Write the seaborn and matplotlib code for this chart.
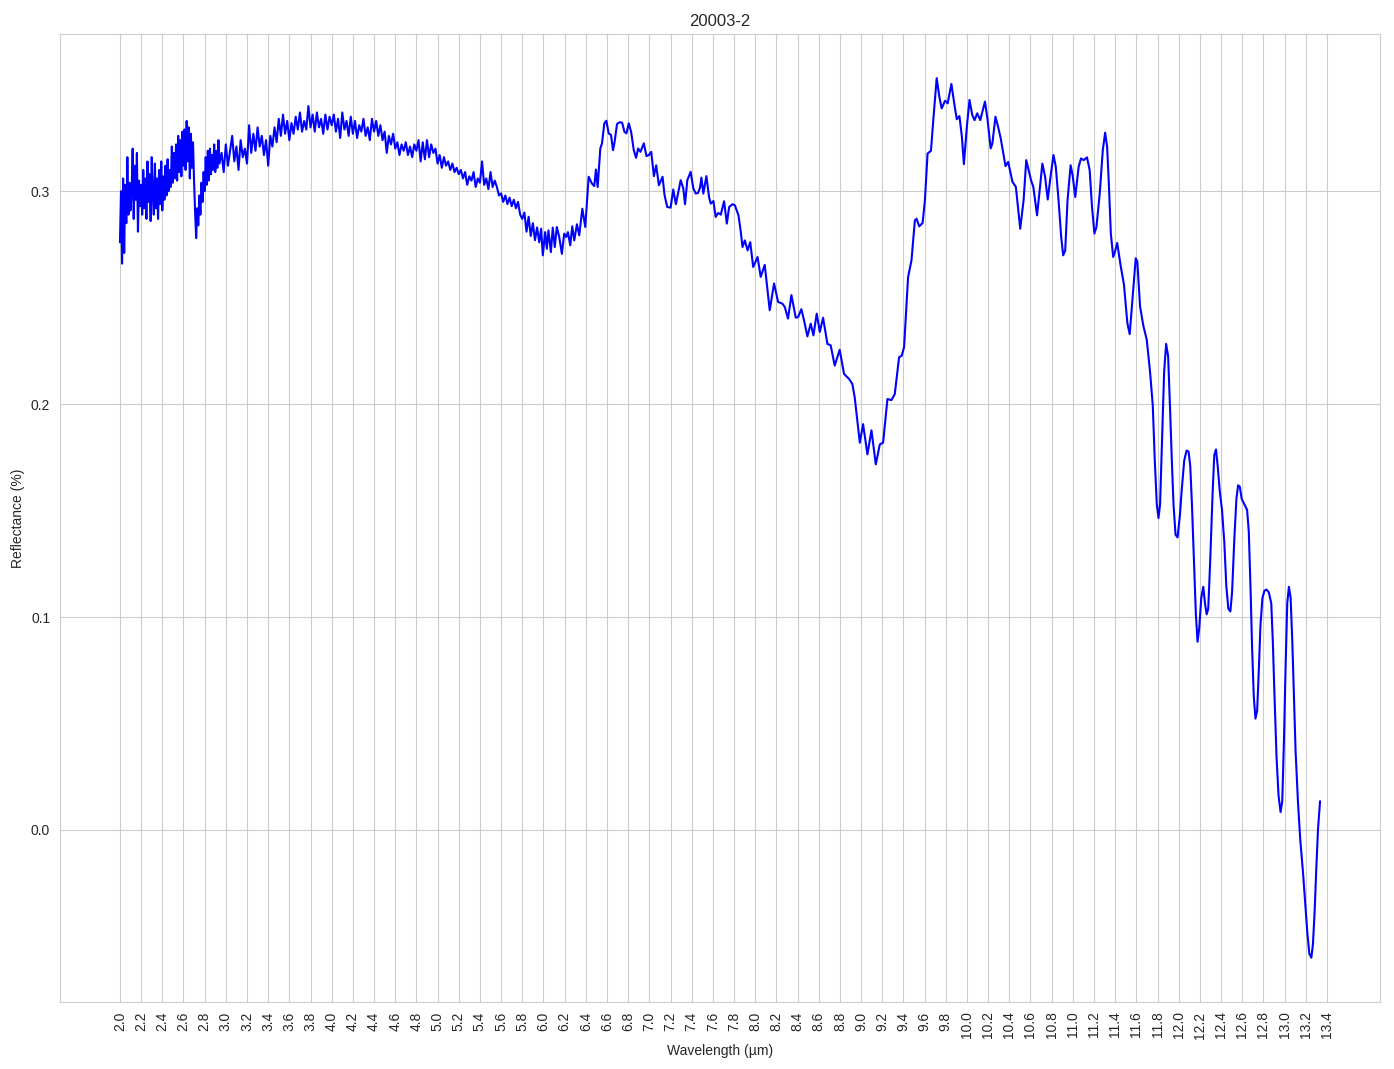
import numpy as np
import pandas as pd
import matplotlib
matplotlib.use("Agg")
import matplotlib.pyplot as plt
import seaborn as sns

# values, in pieces
wl_a = [2.00, 2.01, 2.02, 2.03, 2.04, 2.05, 2.06, 2.07, 2.08, 2.09,
        2.10, 2.11, 2.12, 2.13, 2.14, 2.15, 2.16, 2.17, 2.18, 2.19,
        2.20, 2.21, 2.22, 2.23, 2.24, 2.25, 2.26, 2.27, 2.28, 2.29,
        2.30, 2.31, 2.32, 2.33, 2.34, 2.35, 2.36, 2.37, 2.38, 2.39,
        2.40, 2.41, 2.42, 2.43, 2.44, 2.45, 2.46, 2.47, 2.48, 2.49,
        2.50, 2.51, 2.52, 2.53, 2.54, 2.55, 2.56, 2.57, 2.58, 2.59,
        2.60, 2.61, 2.62, 2.63, 2.64, 2.65, 2.66, 2.67, 2.68, 2.69,
        2.70, 2.71, 2.72, 2.73, 2.74, 2.75, 2.76, 2.77, 2.78, 2.79,
        2.80, 2.81, 2.82, 2.83, 2.84, 2.85, 2.86, 2.87, 2.88, 2.89,
        2.90, 2.91, 2.92, 2.93, 2.94]
refl_a = [0.276, 0.300, 0.266, 0.306, 0.271, 0.303, 0.285, 0.316, 0.289, 0.304,
          0.291, 0.299, 0.320, 0.287, 0.312, 0.296, 0.318, 0.281, 0.305, 0.293,
          0.303, 0.289, 0.310, 0.292, 0.306, 0.287, 0.314, 0.295, 0.308, 0.286,
          0.316, 0.298, 0.289, 0.313, 0.292, 0.306, 0.287, 0.310, 0.294, 0.314,
          0.291, 0.307, 0.296, 0.312, 0.298, 0.315, 0.300, 0.310, 0.302, 0.321,
          0.304, 0.318, 0.306, 0.322, 0.305, 0.326, 0.309, 0.324, 0.307, 0.328,
          0.312, 0.329, 0.310, 0.333, 0.314, 0.330, 0.306, 0.327, 0.311, 0.323,
          0.305, 0.290, 0.278, 0.292, 0.284, 0.298, 0.289, 0.304, 0.295, 0.309,
          0.300, 0.316, 0.303, 0.319, 0.305, 0.320, 0.308, 0.317, 0.310, 0.322,
          0.309, 0.319, 0.311, 0.324, 0.313]

wl_b = [2.96, 2.98, 3.00, 3.02, 3.04, 3.06, 3.08, 3.10, 3.12, 3.14,
        3.16, 3.18, 3.20, 3.22, 3.24, 3.26, 3.28, 3.30, 3.32, 3.34,
        3.36, 3.38, 3.40, 3.42, 3.44, 3.46, 3.48, 3.50, 3.52, 3.54,
        3.56, 3.58, 3.60, 3.62, 3.64, 3.66, 3.68, 3.70, 3.72, 3.74,
        3.76, 3.78, 3.80, 3.82, 3.84, 3.86, 3.88, 3.90, 3.92, 3.94,
        3.96, 3.98]
refl_b = [0.318, 0.309, 0.322, 0.312, 0.319, 0.326, 0.314, 0.321, 0.310, 0.324,
          0.316, 0.320, 0.313, 0.331, 0.318, 0.327, 0.319, 0.330, 0.321, 0.326,
          0.317, 0.324, 0.312, 0.326, 0.321, 0.330, 0.323, 0.334, 0.326, 0.336,
          0.327, 0.333, 0.324, 0.332, 0.327, 0.335, 0.329, 0.337, 0.328, 0.333,
          0.329, 0.340, 0.330, 0.336, 0.328, 0.337, 0.330, 0.334, 0.327, 0.336,
          0.329, 0.335]

wl_c = [4.00, 4.02, 4.04, 4.06, 4.08, 4.10, 4.12, 4.14, 4.16, 4.18,
        4.20, 4.22, 4.24, 4.26, 4.28, 4.30, 4.32, 4.34, 4.36, 4.38,
        4.40, 4.42, 4.44, 4.46, 4.48, 4.50, 4.52, 4.54, 4.56, 4.58,
        4.60, 4.62, 4.64, 4.66, 4.68, 4.70, 4.72, 4.74, 4.76, 4.78,
        4.80, 4.82, 4.84, 4.86, 4.88, 4.90, 4.92, 4.94, 4.96, 4.98,
        5.00, 5.02, 5.04, 5.06, 5.08, 5.10, 5.12, 5.14, 5.16, 5.18,
        5.20, 5.22, 5.24, 5.26, 5.28, 5.30, 5.32, 5.34, 5.36, 5.38,
        5.40, 5.42, 5.44, 5.46, 5.48, 5.50, 5.52, 5.54, 5.56, 5.58,
        5.60, 5.62, 5.64, 5.66, 5.68, 5.70, 5.72, 5.74, 5.76, 5.78,
        5.80, 5.82, 5.84, 5.86, 5.88, 5.90, 5.92, 5.94, 5.96]
refl_c = [0.331, 0.336, 0.328, 0.334, 0.325, 0.337, 0.329, 0.333, 0.326, 0.335,
          0.327, 0.333, 0.325, 0.331, 0.328, 0.334, 0.326, 0.330, 0.324, 0.334,
          0.328, 0.333, 0.326, 0.331, 0.324, 0.328, 0.318, 0.326, 0.322, 0.327,
          0.320, 0.323, 0.317, 0.322, 0.319, 0.323, 0.317, 0.321, 0.316, 0.322,
          0.319, 0.324, 0.314, 0.323, 0.315, 0.324, 0.316, 0.322, 0.318, 0.320,
          0.313, 0.317, 0.311, 0.316, 0.312, 0.314, 0.310, 0.313, 0.309, 0.311,
          0.308, 0.310, 0.306, 0.309, 0.303, 0.307, 0.305, 0.309, 0.302, 0.306,
          0.304, 0.314, 0.303, 0.306, 0.301, 0.309, 0.302, 0.305, 0.302, 0.298,
          0.299, 0.295, 0.298, 0.294, 0.297, 0.293, 0.296, 0.292, 0.295, 0.289,
          0.287, 0.290, 0.281, 0.288, 0.279, 0.285, 0.277, 0.283, 0.276]

wl_d = [5.978, 5.994, 6.016, 6.032, 6.047, 6.070, 6.088, 6.107, 6.126, 6.149,
        6.174, 6.196, 6.215, 6.231, 6.253, 6.272, 6.291, 6.316, 6.338, 6.367,
        6.395, 6.427, 6.458, 6.480, 6.496, 6.512, 6.537, 6.553, 6.575, 6.594,
        6.616, 6.638, 6.657, 6.670, 6.695, 6.720, 6.743, 6.765, 6.784, 6.806,
        6.828, 6.853, 6.875, 6.894, 6.916, 6.948, 6.973, 6.995, 7.018, 7.043,
        7.065, 7.090, 7.125, 7.144, 7.169, 7.201, 7.226, 7.251, 7.296, 7.321,
        7.337, 7.359, 7.390, 7.416, 7.438, 7.460, 7.479, 7.492, 7.510, 7.539,
        7.564, 7.580, 7.605, 7.627, 7.650, 7.675, 7.706, 7.732, 7.754, 7.785,
        7.808, 7.842, 7.864, 7.880, 7.902, 7.928, 7.953, 7.981, 8.022]
refl_d = [0.2824, 0.2699, 0.2808, 0.2730, 0.2816, 0.2714, 0.2829, 0.2738, 0.2832, 0.2785,
          0.2706, 0.2801, 0.2785, 0.2808, 0.2746, 0.2835, 0.2769, 0.2845, 0.2793, 0.2918,
          0.2832, 0.3068, 0.3036, 0.3024, 0.3102, 0.3020, 0.3201, 0.3225, 0.3319, 0.3331,
          0.3272, 0.3264, 0.3193, 0.3225, 0.3316, 0.3324, 0.3322, 0.3279, 0.3272, 0.3319,
          0.3279, 0.3193, 0.3157, 0.3201, 0.3185, 0.3225, 0.3165, 0.3170, 0.3185, 0.3071,
          0.3122, 0.3028, 0.3068, 0.2981, 0.2926, 0.2923, 0.3008, 0.2939, 0.3052, 0.3013,
          0.2939, 0.3052, 0.3091, 0.3013, 0.2989, 0.2992, 0.3017, 0.3064, 0.2989, 0.3071,
          0.2973, 0.2942, 0.2954, 0.2879, 0.2898, 0.2890, 0.2953, 0.2848, 0.2926, 0.2939,
          0.2934, 0.2887, 0.2808, 0.2738, 0.2769, 0.2722, 0.2761, 0.2644, 0.2691]

wl_e = [8.052, 8.090, 8.137, 8.178, 8.216, 8.257, 8.279, 8.310, 8.342, 8.383,
        8.405, 8.436, 8.461, 8.493, 8.524, 8.550, 8.581, 8.610, 8.641, 8.682,
        8.713, 8.751, 8.798, 8.839, 8.887, 8.918, 8.940, 8.965, 8.988, 9.019,
        9.060, 9.098, 9.139, 9.177, 9.208, 9.249, 9.287, 9.318, 9.359]
refl_e = [0.2598, 0.2654, 0.2441, 0.2567, 0.2480, 0.2472, 0.2457, 0.2402, 0.2512, 0.2406,
          0.2409, 0.2446, 0.2394, 0.2318, 0.2378, 0.2323, 0.2425, 0.2339, 0.2406, 0.2283,
          0.2276, 0.2181, 0.2255, 0.2142, 0.2118, 0.2094, 0.2031, 0.1921, 0.1819, 0.1906,
          0.1764, 0.1877, 0.1717, 0.1811, 0.1819, 0.2024, 0.2019, 0.2047, 0.2220]

wl_f = [9.384, 9.406, 9.444, 9.476, 9.508, 9.524, 9.549, 9.581, 9.603, 9.628,
        9.660, 9.682, 9.714, 9.739, 9.761, 9.793, 9.818, 9.853, 9.882, 9.904,
        9.929, 9.952, 9.971, 9.999, 10.024, 10.050, 10.072, 10.097, 10.126, 10.170,
        10.193, 10.224, 10.240, 10.269, 10.294, 10.319, 10.335, 10.364, 10.389, 10.430,
        10.462, 10.503, 10.535, 10.560, 10.579, 10.605, 10.627, 10.662, 10.690, 10.712,
        10.738, 10.763, 10.791, 10.817, 10.839, 10.865, 10.890, 10.909, 10.928, 10.950,
        10.979, 10.998, 11.023, 11.055, 11.077, 11.102, 11.134, 11.159, 11.181, 11.204,
        11.223, 11.254, 11.283, 11.305, 11.324, 11.340, 11.359, 11.381, 11.397, 11.419]
refl_f = [0.2228, 0.2267, 0.2597, 0.2675, 0.2863, 0.2871, 0.2835, 0.2851, 0.2958, 0.3177,
          0.3190, 0.3334, 0.3531, 0.3444, 0.3389, 0.3425, 0.3413, 0.3504, 0.3405, 0.3338,
          0.3353, 0.3256, 0.3127, 0.3303, 0.3429, 0.3358, 0.3334, 0.3366, 0.3334, 0.3421,
          0.3342, 0.3201, 0.3224, 0.3350, 0.3303, 0.3248, 0.3201, 0.3118, 0.3138, 0.3044,
          0.3020, 0.2824, 0.2958, 0.3146, 0.3107, 0.3052, 0.3020, 0.2887, 0.3020, 0.3130,
          0.3068, 0.2961, 0.3075, 0.3170, 0.3115, 0.2958, 0.2785, 0.2699, 0.2722, 0.2958,
          0.3122, 0.3075, 0.2973, 0.3115, 0.3154, 0.3146, 0.3159, 0.3099, 0.2926, 0.2801,
          0.2832, 0.2989, 0.3193, 0.3275, 0.3209, 0.3036, 0.2801, 0.2691, 0.2714, 0.2757]

wl_g = [11.451, 11.483, 11.515, 11.537, 11.562, 11.594, 11.609, 11.635, 11.666, 11.698,
        11.730, 11.755, 11.774, 11.793, 11.809, 11.824, 11.843, 11.862, 11.881, 11.900,
        11.919, 11.935, 11.951, 11.970, 11.989, 12.011, 12.030, 12.052, 12.074, 12.093,
        12.109, 12.125, 12.144, 12.162, 12.178, 12.194, 12.213, 12.232, 12.248, 12.264,
        12.279, 12.298, 12.320, 12.336, 12.352, 12.368, 12.387, 12.409, 12.431, 12.450,
        12.469, 12.488, 12.504, 12.526, 12.545, 12.561, 12.577, 12.595, 12.621, 12.646,
        12.662, 12.678, 12.693, 12.709, 12.725, 12.741, 12.757, 12.772, 12.791, 12.810,
        12.829, 12.851, 12.874, 12.889, 12.905, 12.924, 12.943, 12.962, 12.978, 12.994,
        13.009, 13.025, 13.041, 13.057, 13.073, 13.088, 13.104, 13.126, 13.148, 13.174,
        13.196, 13.215, 13.234, 13.253, 13.268, 13.284, 13.300, 13.316, 13.335]
refl_g = [0.2652, 0.2561, 0.2381, 0.2329, 0.2484, 0.2685, 0.2670, 0.2458, 0.2368, 0.2303,
          0.2148, 0.1994, 0.1735, 0.1529, 0.1465, 0.1529, 0.1839, 0.2148, 0.2283, 0.2226,
          0.1968, 0.1735, 0.1529, 0.1387, 0.1374, 0.1477, 0.1606, 0.1735, 0.1782, 0.1777,
          0.1710, 0.1529, 0.1271, 0.1013, 0.0884, 0.0948, 0.1090, 0.1142, 0.1065, 0.1013,
          0.1039, 0.1271, 0.1581, 0.1761, 0.1787, 0.1710, 0.1594, 0.1503, 0.1348, 0.1142,
          0.1039, 0.1026, 0.1116, 0.1374, 0.1555, 0.1619, 0.1612, 0.1555, 0.1529, 0.1503,
          0.1400, 0.1142, 0.0858, 0.0626, 0.0523, 0.0561, 0.0755, 0.0961, 0.1090, 0.1124,
          0.1129, 0.1116, 0.1065, 0.0884, 0.0626, 0.0342, 0.0161, 0.0084, 0.0135, 0.0419,
          0.0755, 0.1065, 0.1142, 0.1090, 0.0884, 0.0626, 0.0368, 0.0135, -0.0045, -0.0200,
          -0.0355, -0.0484, -0.0582, -0.0600, -0.0535, -0.0381, -0.0174, 0.0006, 0.0135]

df = pd.DataFrame({
    "wavelength": np.concatenate([wl_a, wl_b, wl_c, wl_d, wl_e, wl_f, wl_g]),
    "reflectance": np.concatenate([refl_a, refl_b, refl_c, refl_d, refl_e, refl_f, refl_g]),
})

sns.set_style("whitegrid")
# Arial look-alike, set after the style so it is not overwritten
plt.rcParams["font.family"] = ["Liberation Sans", "DejaVu Sans"]

fig = plt.figure(figsize=(13.94, 10.69), dpi=100)
ax = fig.add_subplot(111)
sns.lineplot(x="wavelength", y="reflectance", data=df, color="blue",
             linewidth=1.5, estimator=None, ax=ax)

xt = np.arange(2.0, 13.41, 0.2)
ax.set_xticks(xt)
ax.set_xticklabels([f"{t:.1f}" for t in xt], rotation=90)
ax.set_title("20003-2")
ax.set_xlabel("Wavelength (µm)")
ax.set_ylabel("Reflectance (%)")

fig.subplots_adjust(left=0.043, right=0.990, top=0.968, bottom=0.063)
fig.savefig("out.png", dpi=100)
